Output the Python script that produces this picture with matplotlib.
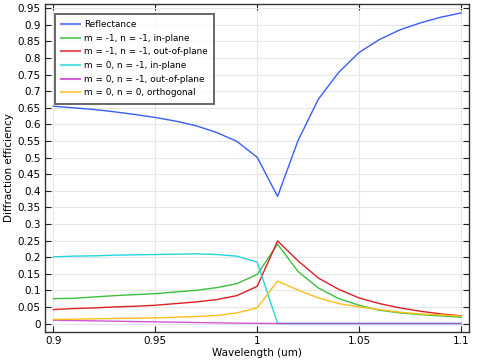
import numpy as np
import matplotlib.pyplot as plt
from matplotlib.ticker import FuncFormatter

wavelength = [0.90, 0.91, 0.92, 0.93, 0.94, 0.95, 0.96, 0.97, 0.98, 0.99, 1.00,
              1.01, 1.02, 1.03, 1.04, 1.05, 1.06, 1.07, 1.08, 1.09, 1.10]

reflectance = [0.655, 0.650, 0.645, 0.638, 0.630, 0.621, 0.610, 0.596, 0.576, 0.549, 0.501,
               0.383, 0.551, 0.676, 0.757, 0.817, 0.856, 0.885, 0.906, 0.923, 0.936]
m1n1_in = [0.075, 0.076, 0.080, 0.084, 0.087, 0.090, 0.095, 0.100, 0.108, 0.120, 0.148,
           0.239, 0.157, 0.107, 0.075, 0.055, 0.040, 0.032, 0.027, 0.023, 0.019]
m1n1_out = [0.042, 0.045, 0.047, 0.050, 0.052, 0.055, 0.060, 0.065, 0.072, 0.084, 0.112,
            0.249, 0.189, 0.137, 0.103, 0.077, 0.060, 0.047, 0.037, 0.029, 0.023]
m0n1_in = [0.201, 0.203, 0.204, 0.206, 0.207, 0.208, 0.209, 0.210, 0.208, 0.203, 0.185,
           0.0, 0.0, 0.0, 0.0, 0.0, 0.0, 0.0, 0.0, 0.0, 0.0]
m0n1_out = [0.010, 0.009, 0.008, 0.007, 0.006, 0.005, 0.004, 0.003, 0.002, 0.001, 0.0005,
            0.0, 0.0, 0.0, 0.0, 0.0, 0.0, 0.0, 0.0, 0.0, 0.0]
m0n0 = [0.012, 0.013, 0.014, 0.015, 0.016, 0.017, 0.019, 0.021, 0.024, 0.032, 0.047,
        0.128, 0.101, 0.077, 0.060, 0.050, 0.042, 0.034, 0.029, 0.026, 0.022]

labels = ["Reflectance",
          "m = -1, n = -1, in-plane",
          "m = -1, n = -1, out-of-plane",
          "m = 0, n = -1, in-plane",
          "m = 0, n = -1, out-of-plane",
          "m = 0, n = 0, orthogonal"]
colors = ["#3a5ef0", "#3cbf3c", "#dd1f26", "#22d8dc", "#c62cc8", "#ffbf1a"]

plt.rcParams['font.family'] = 'DejaVu Sans'
fig = plt.figure(figsize=(4.82, 3.63), dpi=100)
ax = fig.add_axes([0.0934, 0.0854, 0.8796, 0.9036])

series = [reflectance, m1n1_in, m1n1_out, m0n1_in, m0n1_out, m0n0]
for s, lab, c in zip(series, labels, colors):
    alpha = 0.8 if lab == labels[4] else 1.0
    ax.plot(wavelength, s, color=c, lw=1.0, label=lab, alpha=alpha)

ax.set_xlim(0.8959, 1.1039)
ax.set_ylim(-0.0256, 0.963)
ax.set_xticks([0.9, 0.95, 1.0, 1.05, 1.1])
ax.set_yticks(np.arange(0, 0.951, 0.05))
fmt = FuncFormatter(lambda v, p: ("%.2f" % v).rstrip('0').rstrip('.'))
ax.xaxis.set_major_formatter(fmt)
ax.yaxis.set_major_formatter(fmt)
ax.tick_params(direction='in', top=True, right=True, labelsize=7.5, length=4,
               width=0.8, color='#222222', pad=3)
ax.grid(True, color='#e6e6e6', lw=0.8)
for sp in ax.spines.values():
    sp.set_color('#333333')
    sp.set_linewidth(1.0)

ax.set_xlabel("Wavelength (um)", fontsize=7.5, labelpad=1)
ax.set_ylabel("Diffraction efficiency", fontsize=7.5, labelpad=3)

leg = ax.legend(loc='upper left', bbox_to_anchor=(0.0236, 0.9695), fontsize=6.4,
                frameon=True, fancybox=False, shadow=False, handlelength=2.1,
                borderpad=0.7, labelspacing=0.52, handletextpad=0.45,
                borderaxespad=0)
leg.get_frame().set_edgecolor('#333333')
leg.get_frame().set_linewidth(1.3)
for line in leg.get_lines():
    line.set_linewidth(1.5)
    line.set_alpha(0.75)

fig.savefig("out.png", dpi=100)
